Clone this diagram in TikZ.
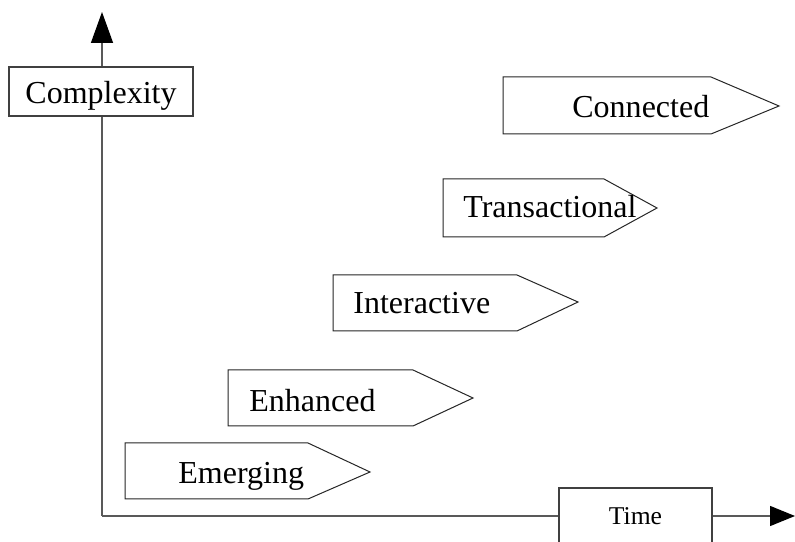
\documentclass[tikz,border=0pt]{standalone}
\usepackage{fontspec}
\setmainfont{Liberation Serif}
\usetikzlibrary{arrows.meta}

\begin{document}
\begin{tikzpicture}[
    x=0.5bp, y=-0.5bp,
    axis/.style={draw=black!65, line width=0.7bp},
    axisbox/.style={rectangle, draw=black!75, fill=white, line width=0.6bp, inner sep=0pt, anchor=base},
    stage/.style={draw=black!85, fill=white, line width=0.5bp},
    stagetext/.style={anchor=base west, inner sep=0pt, font=\fontsize{16bp}{19bp}\selectfont}
]

\useasboundingbox (0,0) rectangle (795,542);
\clip (0,0) rectangle (795,542);

% axes
\coordinate (origin) at (102,516);
\coordinate (ytop) at (102,12);
\coordinate (xend) at (795,516);
\draw[axis, -{Triangle[length=15.5bp, width=11bp, color=black]}] (origin) -- (ytop);
\draw[axis, -{Triangle[length=12.5bp, width=10bp, color=black]}] (origin) -- (xend);

\node[axisbox, minimum width=92bp, text height=18.5bp, text depth=6bp,
      font=\fontsize{16bp}{19bp}\selectfont] (complexity) at (101,104) {Complexity};
\node[axisbox, minimum width=76.5bp, text height=18.5bp, text depth=11.5bp,
      font=\fontsize{12.8bp}{15bp}\selectfont] (time) at (635.5,525) {Time};

% stages
\draw[stage] (125,443) -- (308,443) -- (370,472) -- (308,499) -- (125,499) -- cycle;
\node[stagetext] (emerging) at (178,483) {Emerging};

\draw[stage] (228,370) -- (413,370) -- (473,398) -- (413,426) -- (228,426) -- cycle;
\node[stagetext] (enhanced) at (249,412) {Enhanced};

\draw[stage] (333,275) -- (517,275) -- (578,302) -- (517,331) -- (333,331) -- cycle;
\node[stagetext] (interactive) at (353,314) {Interactive};

\draw[stage] (443,179) -- (604,179) -- (657,208) -- (604,237) -- (443,237) -- cycle;
\node[stagetext] (transactional) at (463,218) {Transactional};

\draw[stage] (503,77) -- (711,77) -- (779,106) -- (711,134) -- (503,134) -- cycle;
\node[stagetext] (connected) at (572,118) {Connected};

\end{tikzpicture}
\end{document}
